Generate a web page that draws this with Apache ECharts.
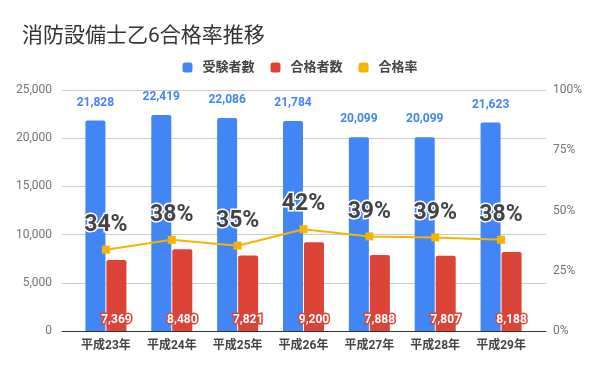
<!DOCTYPE html>
<html><head><meta charset="utf-8">
<script src="https://cdn.jsdelivr.net/npm/echarts@6/dist/echarts.min.js"></script>
<style>html,body{margin:0;padding:0;background:#fff}#c{width:600px;height:371px}</style>
</head><body><div id="c"></div>
<script>
var categories = ['平成23年','平成24年','平成25年','平成26年','平成27年','平成28年','平成29年'];
var examinees = [21828, 22419, 22086, 21784, 20099, 20099, 21623];
var passers = [7369, 8480, 7821, 9200, 7888, 7807, 8188];
var passRate = [0.3376, 0.3783, 0.3541, 0.4223, 0.3925, 0.3884, 0.3787];
var seriesNames = ['受験者數','合格者数','合格率'];

var FF = "Roboto, 'Noto Sans CJK JP', sans-serif";
var chart = echarts.init(document.getElementById('c'));
chart.setOption({
  animation: false,
  textStyle: {fontFamily: FF},
  title: {text: '消防設備士乙6合格率推移', left: 17, top: 21,
    textStyle: {fontFamily: FF, fontSize: 21, fontWeight: 'normal', color: '#333'}},
  legend: {data: seriesNames, top: 56, left: 'center', icon: 'roundRect',
    itemWidth: 10, itemHeight: 10, itemGap: 16,
    textStyle: {fontFamily: FF, fontSize: 13, fontWeight: 'bold', color: '#444', padding: [0,0,0,5]}},
  grid: [
    {left: 62, right: 54, top: 90, bottom: 40},
    {left: 73, right: 66, top: 90, bottom: 40}
  ],
  xAxis: [
    {type: 'category', gridIndex: 0, data: categories, axisLabel: {show: false},
     axisTick: {show: false}, axisLine: {lineStyle: {color: '#333', width: 1}}},
    {type: 'category', gridIndex: 1, data: categories, axisTick: {show: false},
     axisLine: {show: false},
     axisLabel: {margin: 9, fontFamily: FF, fontSize: 12, fontWeight: 'bold', color: '#444'}}
  ],
  yAxis: [
    {type: 'value', gridIndex: 0, min: 0, max: 25000, interval: 5000,
     axisLine: {show: false}, axisTick: {show: false},
     axisLabel: {margin: 10, fontFamily: FF, fontSize: 12, color: '#757575',
       formatter: function(v){return v.toLocaleString('en-US');}},
     splitLine: {lineStyle: {color: '#cccccc'}}},
    {type: 'value', gridIndex: 0, position: 'right', min: 0, max: 1, interval: 0.25,
     axisLine: {show: false}, axisTick: {show: false}, splitLine: {show: false},
     axisLabel: {margin: 7, fontFamily: FF, fontSize: 12, color: '#757575',
       formatter: function(v){return Math.round(v*100)+'%';}}},
    {type: 'value', gridIndex: 1, min: 0, max: 25000, show: false},
    {type: 'value', gridIndex: 1, min: 0, max: 1, show: false}
  ],
  series: [
    {name: seriesNames[0], type: 'bar', xAxisIndex: 1, yAxisIndex: 2, data: examinees,
     barWidth: 20, barGap: '5%', itemStyle: {color: '#4285f4', borderRadius: [2,2,0,0]},
     label: {show: true, position: 'top', distance: 12, color: '#4285f4',
       fontFamily: FF, fontSize: 12, fontWeight: 'bold',
       formatter: function(p){return p.value.toLocaleString('en-US');}}},
    {name: seriesNames[1], type: 'bar', xAxisIndex: 1, yAxisIndex: 2, data: passers,
     barWidth: 20, itemStyle: {color: '#db4437', borderRadius: [2,2,0,0]},
     label: {show: true, position: 'insideBottom', distance: 5, color: '#fff',
       textBorderColor: '#db4437', textBorderWidth: 3,
       fontFamily: FF, fontSize: 12, fontWeight: 'bold',
       formatter: function(p){return p.value.toLocaleString('en-US');}}},
    {name: seriesNames[2], type: 'line', xAxisIndex: 1, yAxisIndex: 3, data: passRate,
     symbol: 'rect', symbolSize: 8, z: 5,
     lineStyle: {color: '#f4b400', width: 2}, itemStyle: {color: '#f4b400'},
     label: {show: true, position: 'top', distance: 9, color: '#444',
       textBorderColor: '#fff', textBorderWidth: 3,
       fontFamily: FF, fontSize: 23, fontWeight: 'bold',
       formatter: function(p){return Math.round(p.value*100)+'%';}}}
  ]
});
</script></body></html>
